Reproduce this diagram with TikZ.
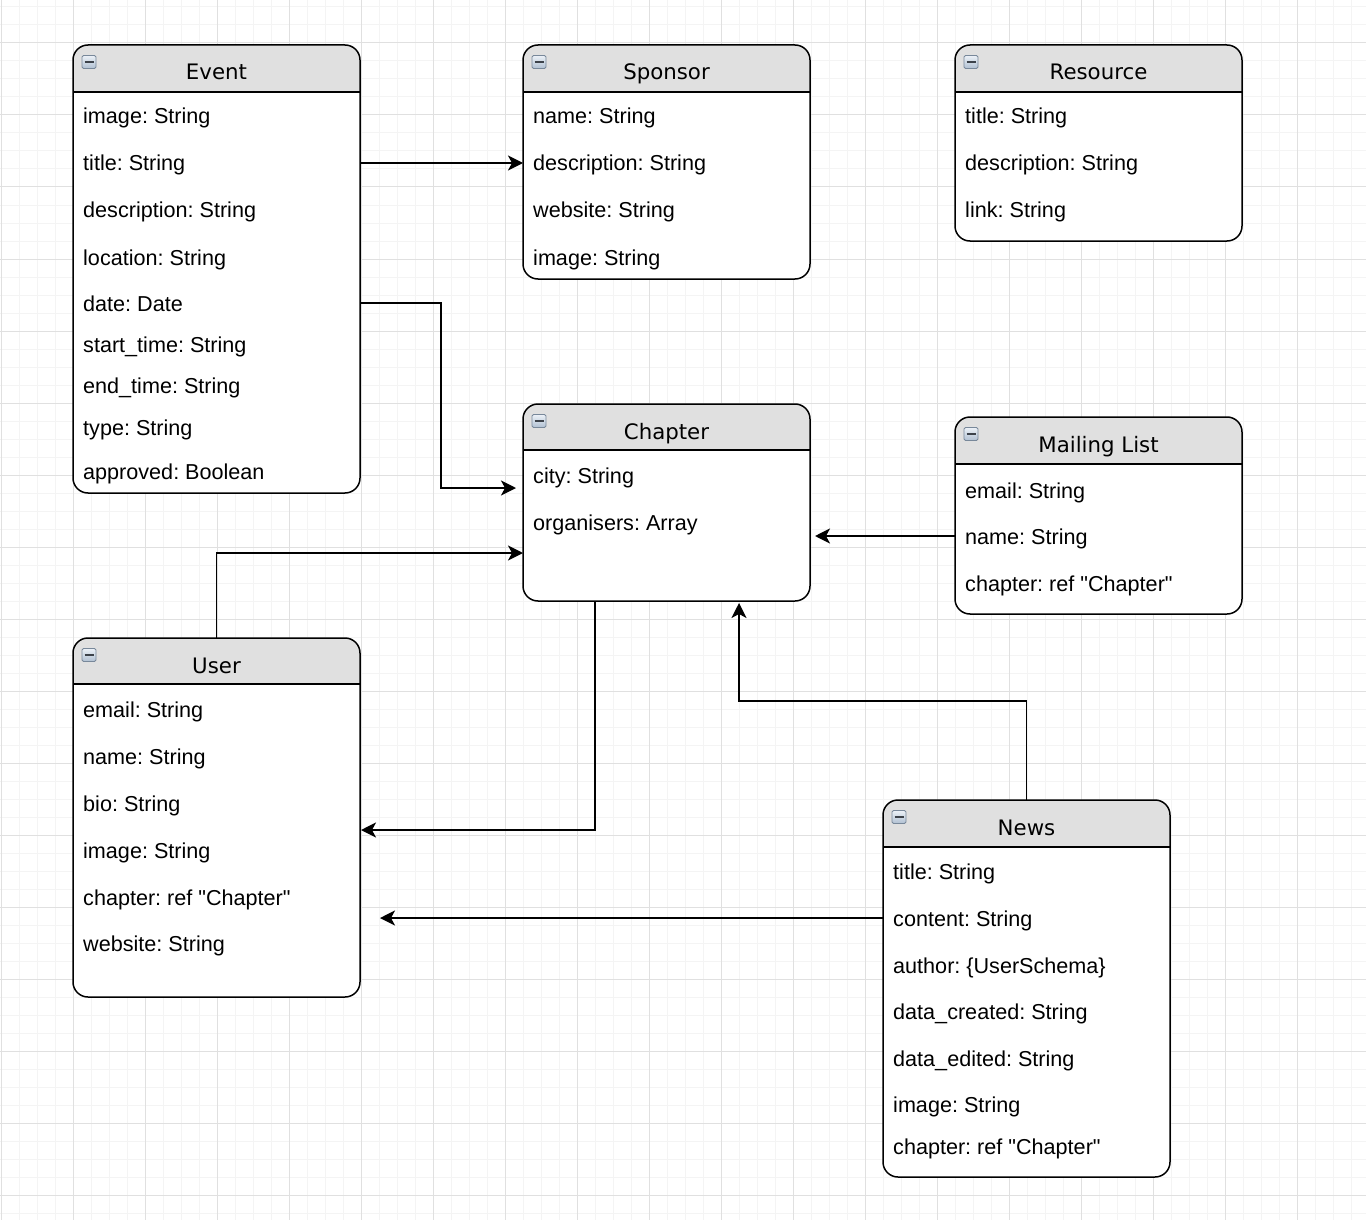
\documentclass[tikz,border=0pt]{standalone}
\usepackage{fontspec}
\setmainfont{Liberation Sans}[Ligatures=TeXOff]
\newfontfamily\headfont{DejaVu Sans}
\usetikzlibrary{arrows.meta,calc,fit}
\frenchspacing

\definecolor{gridminor}{RGB}{244,244,244}
\definecolor{gridmajor}{RGB}{224,224,224}
\definecolor{headfill}{RGB}{224,224,224}
\definecolor{iconedge}{RGB}{120,136,154}
\definecolor{icontop}{RGB}{236,241,247}
\definecolor{iconbot}{RGB}{176,192,210}
\definecolor{iconbar}{RGB}{60,66,74}

\tikzset{
  classbox/.style={draw=black, line width=1.5pt, rounded corners=15pt, inner sep=0pt, outer sep=0pt},
  sepline/.style={draw=black, line width=1.5pt},
  rowtext/.style={anchor=base west, inner sep=0pt, text height=16pt, text depth=0pt,
    font=\fontsize{21.6}{24}\selectfont},
  titletext/.style={anchor=base, inner sep=0pt, font=\headfont\fontsize{21.3}{24}\selectfont},
  collapse/.style={draw=iconedge, line width=0.8pt, rounded corners=1.5pt, top color=icontop,
    bottom color=iconbot, minimum width=14pt, minimum height=13pt, inner sep=0pt,
    path picture={\draw[iconbar, line width=2pt]
      ([xshift=-4.5pt]path picture bounding box.center) -- ([xshift=4.5pt]path picture bounding box.center);}},
  conn/.style={draw=black, line width=1.8pt, -{Stealth[length=15pt, width=15pt, inset=4pt]}},
}

% class box: name, left, top, right, bottom, header bottom, title
\newcommand\umlclass[7]{%
  \begin{scope}
    \clip[rounded corners=15pt] (#2,#3) rectangle (#4,#5);
    \fill[white] (#2,#3) rectangle (#4,#5);
    \fill[headfill] (#2,#3) rectangle (#4,#6);
  \end{scope}
  \draw[sepline] (#2,#6) -- (#4,#6);
  \node[classbox, fit={(#2,#3) (#4,#5)}] (#1) {};
  \node[collapse] (#1-icon) at (#2+16,#3+17) {};
  \node[titletext] (#1-title) at ({(#2+#4)/2},#3+35) {#7};
}

\begin{document}
\begin{tikzpicture}[x=1pt, y=-1pt]
  \useasboundingbox (0,0) rectangle (1366,1220);
  \fill[white] (0,0) rectangle (1366,1220);

  % background grid
  \foreach \i in {0,...,76} {
    \draw[gridminor, line width=1pt] (1+18*\i,0) -- (1+18*\i,1220);
  }
  \foreach \i in {0,...,69} {
    \draw[gridminor, line width=1pt] (0,7+18*\i) -- (1366,7+18*\i);
  }
  \foreach \i in {0,...,19} {
    \draw[gridmajor, line width=1pt] (1+72*\i,0) -- (1+72*\i,1220);
  }
  \foreach \i in {0,...,17} {
    \draw[gridmajor, line width=1pt] (0,43+72*\i) -- (1366,43+72*\i);
  }

  % Event
  \umlclass{event}{73}{45}{360}{493}{92}{Event}
  \node[rowtext] (event-image) at (83,124) {image: String};
  \node[rowtext] (event-titlefield) at (83,171) {title: String};
  \node[rowtext] (event-desc) at (83,218) {description: String};
  \node[rowtext] (event-loc) at (83,265) {location: String};
  \node[rowtext] (event-date) at (83,311) {date: Date};
  \node[rowtext] (event-start) at (83,352) {start\_time: String};
  \node[rowtext] (event-end) at (83,393) {end\_time: String};
  \node[rowtext] (event-type) at (83,435) {type: String};
  \node[rowtext] (event-appr) at (83,479) {approved: Boolean};

  % Sponsor
  \umlclass{sponsor}{523}{45}{810}{279}{92}{Sponsor}
  \node[rowtext] (sponsor-name) at (533,124) {name: String};
  \node[rowtext] (sponsor-desc) at (533,171) {description: String};
  \node[rowtext] (sponsor-web) at (533,218) {website: String};
  \node[rowtext] (sponsor-image) at (533,265) {image: String};

  % Resource
  \umlclass{resource}{955}{45}{1242}{241}{92}{Resource}
  \node[rowtext] (resource-titlefield) at (965,124) {title: String};
  \node[rowtext] (resource-desc) at (965,171) {description: String};
  \node[rowtext] (resource-link) at (965,218) {link: String};

  % Chapter
  \umlclass{chapter}{523}{404}{810}{601}{450}{Chapter}
  \node[rowtext] (chapter-city) at (533,483) {city: String};
  \node[rowtext] (chapter-org) at (533,530) {organisers: Array};

  % Mailing List
  \umlclass{mailing}{955}{417}{1242}{614}{464}{Mailing List}
  \node[rowtext] (mailing-email) at (965,498) {email: String};
  \node[rowtext] (mailing-name) at (965,544) {name: String};
  \node[rowtext] (mailing-chapter) at (965,591) {chapter: ref "Chapter"};

  % User
  \umlclass{user}{73}{638}{360}{997}{684}{User}
  \node[rowtext] (user-email) at (83,717) {email: String};
  \node[rowtext] (user-name) at (83,764) {name: String};
  \node[rowtext] (user-bio) at (83,811) {bio: String};
  \node[rowtext] (user-image) at (83,858) {image: String};
  \node[rowtext] (user-chapter) at (83,905) {chapter: ref "Chapter"};
  \node[rowtext] (user-web) at (83,951) {website: String};

  % News
  \umlclass{news}{883}{800}{1170}{1177}{847}{News}
  \node[rowtext] (news-titlefield) at (893,879) {title: String};
  \node[rowtext] (news-content) at (893,926) {content: String};
  \node[rowtext] (news-author) at (893,973) {author: \{UserSchema\}};
  \node[rowtext] (news-created) at (893,1019) {data\_created: String};
  \node[rowtext] (news-edited) at (893,1066) {data\_edited: String};
  \node[rowtext] (news-image) at (893,1112) {image: String};
  \node[rowtext] (news-chapter) at (893,1154) {chapter: ref "Chapter"};

  % connectors
  \draw[conn] (event.east |- event-titlefield.center) -- (sponsor.west |- event-titlefield.center);

  \coordinate (evchap) at ($(chapter.west)+(-7,-14.5)$);
  \draw[conn] (event.east |- event-date.center) -- ++(81,0) |- (evchap);

  \coordinate (userchap) at ($(chapter.west)+(0,50.5)$);
  \draw[conn] (user.north) |- (userchap);

  \draw[conn] (mailing.west |- mailing-name.center) -- ([xshift=5pt]chapter.east |- mailing-name.center);

  \coordinate (newschap) at ($(chapter.south)+(72.5,2)$);
  \draw[conn] (news.north) -- ++(0,-99) -| (newschap);

  \coordinate (chapuser) at ($(user.east)+(1,12.5)$);
  \draw[conn] ($(chapter.south)+(-71.5,0)$) |- (chapuser);

  \draw[conn] (news.west |- news-content.center) -- ([xshift=20pt]user.east |- news-content.center);
\end{tikzpicture}
\end{document}
